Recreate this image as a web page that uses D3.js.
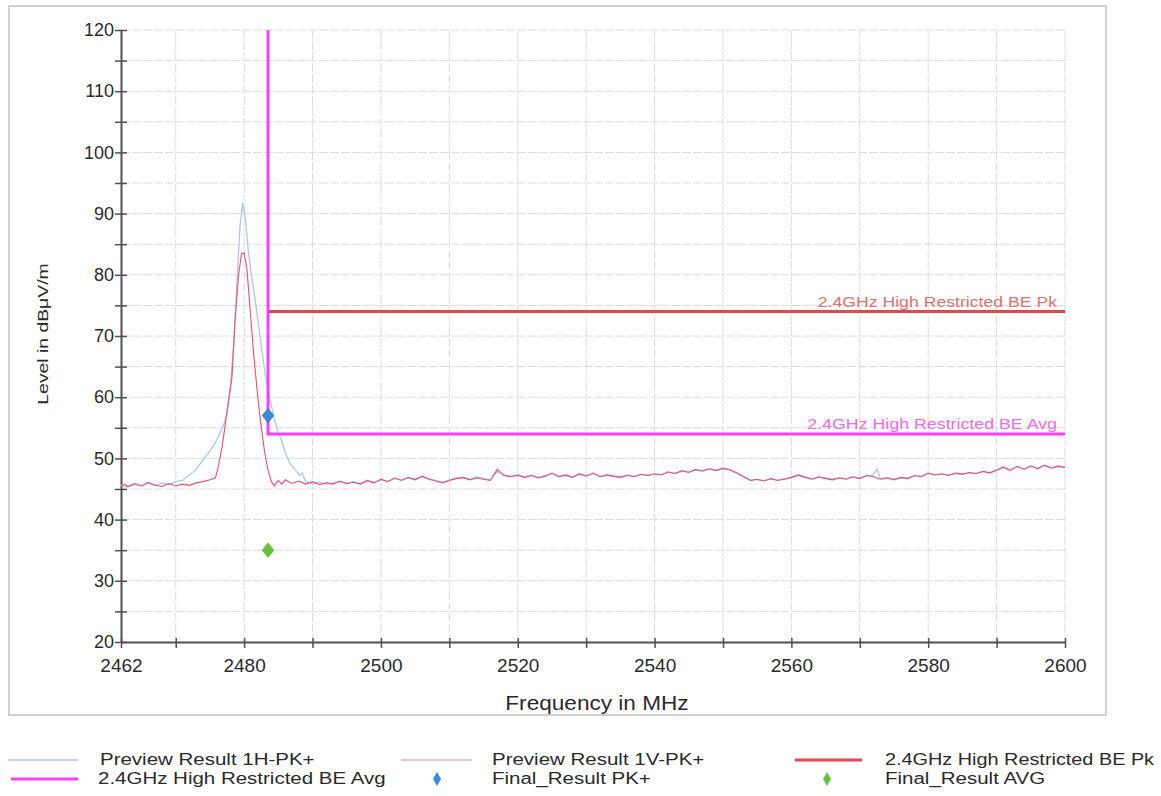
<!DOCTYPE html>
<html><head><meta charset="utf-8">
<script src="https://cdn.jsdelivr.net/npm/d3@7"></script>
<style>
html,body{margin:0;padding:0;background:#fff;}
svg{display:block;font-family:"Liberation Sans",Arial,sans-serif;}
</style></head><body>
<svg id="chart" width="1161" height="796"></svg>
<script>
// ---- data ----
const xDomain = [2462, 2600];
const yDomain = [20, 120];
const xLabelTicks = [2462, 2480, 2500, 2520, 2540, 2560, 2580, 2600];
const xMinorTicks = [2470, 2490, 2510, 2530, 2550, 2570, 2590];
const xGrid = [2470, 2480, 2490, 2500, 2510, 2520, 2530, 2540, 2550, 2560, 2570, 2580, 2590, 2600];
const yLabelTicks = [20, 30, 40, 50, 60, 70, 80, 90, 100, 110, 120];
const yMinorTicks = [25, 35, 45, 55, 65, 75, 85, 95, 105, 115];
const yGrid = [25, 30, 35, 40, 45, 50, 55, 60, 65, 70, 75, 80, 85, 90, 95, 100, 105, 110, 115, 120];

// Preview Result 1H-PK+
const h1Freq = [2462,2463,2464,2465,2466,2467,2468,2469,2470,2471,2472,2473,2474,2475,2476,2477,2477.5,2478,2478.5,2479,2479.4,2479.8,2480.2,2480.6,2481,2481.6,2482.2,2482.6,2483.2,2483.8,2484.5,2485,2485.5,2486,2486.7,2487.3,2488.1,2488.5,2489,
2490,2491,2492,2493,2494,2495,2496,2497,2498,2499,2500,2501,2502,2503,2504,2505,2506,2507,2508,2509,2510,2511,2512,2513,2514,2515,2516,2517,2518,2519,2520,2521,2522,2523,2524,2525,2526,2527,2528,2529,2530,2531,2532,2533,2534,2535,2536,2537,2538,2539,2540,2541,2542,2543,2544,2545,2546,2547,2548,2549,2550,2551,2552,2553,2554,2555,2556,2557,2558,2559,2560,2561,2562,2563,2564,2565,2566,2567,2568,2569,2570,2571,2572,2572.5,2573,2574,2575,2576,2577,2578,2579,2580,2581,2582,2583,2584,2585,2586,2587,2588,2589,2590,2591,2592,2593,2594,2595,2596,2597,2598,2599,2600];
const h1Level = [45.6,45.3,45.7,45.5,45.9,45.6,46.0,45.7,46.2,46.4,47.3,48.2,49.8,51.2,53.0,55.5,57.4,62,69,80,88,91.7,89,84,80.5,76,71,67.5,63,59.5,56,54.2,52.8,51,49.2,48.4,47.2,47.6,46.2,
45.9,46.1,45.8,46.0,46.2,45.9,46.2,45.9,46.3,46.1,46.5,46.3,46.7,46.5,46.8,46.6,47.0,46.7,46.4,46.1,46.5,46.8,46.8,46.6,47.0,46.7,46.5,47.9,47.3,47.1,47.2,47.0,47.3,46.9,47.2,47.5,47.1,47.2,47.0,47.4,47.2,47.5,47.1,47.2,47.0,47.0,47.3,47.1,47.3,47.3,47.4,47.4,47.7,47.6,47.9,47.8,48.1,48.0,48.2,48.1,48.3,48.2,47.7,47.1,46.5,46.5,46.4,46.6,46.5,46.7,46.8,47.2,47.0,46.7,46.9,46.8,46.6,46.9,46.7,46.9,46.8,47.1,47.3,48.3,46.7,46.9,46.6,46.8,46.8,47.1,47.1,47.5,47.4,47.4,47.3,47.5,47.5,47.6,47.6,47.8,47.7,48.0,48.5,48.2,48.6,48.3,48.7,48.4,48.8,48.5,48.8,48.6];

// Preview Result 1V-PK+
const v1Freq = [2462,2462.5,2463,2464,2465,2466,2467,2468,2469,2470,2471,2472,2473,2474,2475,2475.8,2476.2,2476.8,2477.3,2477.8,2478.2,2478.7,2479.2,2479.6,2480,2480.4,2480.9,2481.4,2482,2482.4,2483,2483.5,2484,2484.4,2485,2485.5,2486,
2487,2488,2489,2490,2491,2492,2493,2494,2495,2496,2497,2498,2499,2500,2501,2502,2503,2504,2505,2506,2507,2508,2509,2510,2511,2512,2513,2514,2515,2516,2517,2518,2519,2520,2521,2522,2523,2524,2525,2526,2527,2528,2529,2530,2531,2532,2533,2534,2535,2536,2537,2538,2539,2540,2541,2542,2543,2544,2545,2546,2547,2548,2549,2550,2551,2552,2553,2554,2555,2556,2557,2558,2559,2560,2561,2562,2563,2564,2565,2566,2567,2568,2569,2570,2571,2572,2573,2574,2575,2576,2577,2578,2579,2580,2581,2582,2583,2584,2585,2586,2587,2588,2589,2590,2591,2592,2593,2594,2595,2596,2597,2598,2599,2600];
const v1Level = [45.3,45.8,45.4,45.9,45.5,46.1,45.6,45.4,45.9,45.5,45.8,45.6,46.0,46.2,46.5,46.8,48.5,52,56,60,63,73,80,83.4,83.6,81,74,67,60,56,51,48,46.2,45.5,46.4,45.8,46.5,
45.9,46.3,45.8,46.2,45.7,46.0,45.8,46.3,45.9,46.1,45.8,46.4,46.0,46.6,46.2,46.8,46.4,46.9,46.5,47.1,46.6,46.3,46.0,46.4,46.7,46.9,46.5,46.8,46.6,46.4,48.2,47.2,47.0,47.3,46.9,47.2,46.8,47.1,47.6,47.0,47.3,46.9,47.5,47.1,47.6,47.0,47.3,47.1,46.9,47.2,47.0,47.4,47.2,47.5,47.3,47.8,47.5,48.0,47.7,48.2,47.9,48.3,48.0,48.4,48.1,47.6,47.0,46.4,46.6,46.3,46.7,46.4,46.6,46.9,47.3,46.9,46.6,47.0,46.7,46.5,46.8,46.6,47.0,46.7,47.2,47.0,46.6,46.8,46.5,46.9,46.7,47.2,47.0,47.6,47.3,47.5,47.2,47.6,47.4,47.7,47.5,47.9,47.6,48.1,48.6,48.0,48.7,48.2,48.8,48.3,48.9,48.4,48.7,48.5];

// limit lines
const avgLimitFreq = [2483.5, 2483.5, 2600];
const avgLimitLevel = [120, 54, 54];
const pkLimitFreq = [2483.5, 2600];
const pkLimitLevel = [74, 74];
const limitLabels = ["2.4GHz High Restricted BE Pk", "2.4GHz High Restricted BE Avg"];

// final results
const finalPkFreq = [2483.5];
const finalPkLevel = [57];
const finalAvgFreq = [2483.5];
const finalAvgLevel = [35];

const legendNames = ["Preview Result 1H-PK+", "Preview Result 1V-PK+", "2.4GHz High Restricted BE Pk",
  "2.4GHz High Restricted BE Avg", "Final_Result PK+", "Final_Result AVG"];

// ---- drawing ----
const svg = d3.select("#chart");
const C = {h1:"#a9c9ec", v1:"#ec4f72", pk:"#e8434e", avg:"#fb3efb", fpk:"#3a8ad6", favg:"#66c43a",
  h1leg:"#c5d3e0", v1leg:"#e9c4cc"};

function stretch(sel, f){
  sel.each(function(){
    const l = this.getComputedTextLength();
    d3.select(this).attr("textLength", l*f).attr("lengthAdjust","spacingAndGlyphs");
  });
}

// frame
svg.append("rect").attr("x",9).attr("y",6).attr("width",1097).attr("height",709)
  .attr("fill","#fff").attr("stroke","#d0d0d0").attr("stroke-width",2);

const x = d3.scaleLinear().domain(xDomain).range([121, 1065]);
const y = d3.scaleLinear().domain(yDomain).range([642, 30]);

const grid = svg.append("g");
grid.selectAll(".gx").data(xGrid).join("line")
  .attr("x1",d=>x(d)).attr("x2",d=>x(d)).attr("y1",y(120)).attr("y2",y(20))
  .attr("stroke","#dcdcdc").attr("stroke-width",1).attr("stroke-dasharray","9,2");
grid.selectAll(".gy").data(yGrid).join("line")
  .attr("x1",x(2462)).attr("x2",x(2600)).attr("y1",d=>y(d)).attr("y2",d=>y(d))
  .attr("stroke","#dcdcdc").attr("stroke-width",1).attr("stroke-dasharray","9,2");

// axes
const axisColor = "#505050";
const yAxis = svg.append("g").attr("transform",`translate(${x(2462)},0)`)
  .call(d3.axisLeft(y).tickValues(yLabelTicks).tickSizeInner(6).tickSizeOuter(0).tickPadding(1));
const yMinor = svg.append("g").attr("transform",`translate(${x(2462)},0)`)
  .call(d3.axisLeft(y).tickValues(yMinorTicks).tickSize(6).tickFormat(""));
const xAxis = svg.append("g").attr("transform",`translate(0,${y(20)})`)
  .call(d3.axisBottom(x).tickValues(xLabelTicks).tickSizeInner(6).tickSizeOuter(0).tickFormat(d3.format("d")).tickPadding(11));
const xMinor = svg.append("g").attr("transform",`translate(0,${y(20)})`)
  .call(d3.axisBottom(x).tickValues(xMinorTicks).tickSize(6).tickFormat(""));
[yAxis,yMinor,xAxis,xMinor].forEach(g=>{
  g.select(".domain").attr("stroke",axisColor).attr("stroke-width",2);
  g.selectAll(".tick line").attr("stroke",axisColor).attr("stroke-width",1.5);
  g.selectAll("text").attr("fill","#2a2a2a").style("font-family","Liberation Sans, Arial, sans-serif");
});
yAxis.selectAll("text").style("font-size","18px");
xAxis.selectAll("text").style("font-size","19px");
// ticks crossing the axis
[yAxis,yMinor].forEach(g=>g.selectAll(".tick line").attr("x2",6).attr("x1",-6));
[xAxis,xMinor].forEach(g=>g.selectAll(".tick line").attr("y1",-4).attr("y2",6));
yMinor.select(".domain").remove(); xMinor.select(".domain").remove();

// axis titles
svg.append("text").attr("x",597).attr("y",710).attr("text-anchor","middle")
  .style("font-size","20px").attr("fill","#2a2a2a").text("Frequency in MHz").call(stretch,1.13);
svg.append("text").attr("transform","translate(48,334) rotate(-90)").attr("text-anchor","middle")
  .style("font-size","15px").attr("fill","#2a2a2a").text("Level in dBμV/m").call(stretch,1.29);

const line = d3.line().x(d=>x(d[0])).y(d=>y(d[1]));
const zip = (a,b)=>a.map((v,i)=>[v,b[i]]);

svg.append("path").datum(zip(h1Freq,h1Level)).attr("d",line)
  .attr("fill","none").attr("stroke",C.h1).attr("stroke-width",1.3);
svg.append("path").datum(zip(v1Freq,v1Level)).attr("d",line)
  .attr("fill","none").attr("stroke",C.v1).attr("stroke-width",1.1);

svg.append("path").datum(zip(pkLimitFreq,pkLimitLevel)).attr("d",line)
  .attr("fill","none").attr("stroke",C.pk).attr("stroke-width",3);
svg.append("path").datum(zip(avgLimitFreq,avgLimitLevel)).attr("d",line)
  .attr("fill","none").attr("stroke",C.avg).attr("stroke-width",3);

svg.append("text").attr("x",x(2600)-8).attr("y",y(74)-5).attr("text-anchor","end")
  .style("font-size","14px").attr("fill","#e0706c").text(limitLabels[0]).call(stretch,1.26);
svg.append("text").attr("x",x(2600)-8).attr("y",y(54)-5).attr("text-anchor","end")
  .style("font-size","14px").attr("fill","#ee6aee").text(limitLabels[1]).call(stretch,1.27);

const diamond = d3.symbol().type(d3.symbolDiamond).size(80);
svg.selectAll(".fpk").data(zip(finalPkFreq,finalPkLevel)).join("path")
  .attr("d",diamond).attr("transform",d=>`translate(${x(d[0])},${y(d[1])}) scale(1.3,0.95)`).attr("fill",C.fpk);
svg.selectAll(".favg").data(zip(finalAvgFreq,finalAvgLevel)).join("path")
  .attr("d",diamond).attr("transform",d=>`translate(${x(d[0])},${y(d[1])}) scale(1.3,0.95)`).attr("fill",C.favg);

// legend
const leg = svg.append("g").style("font-size","16px");
const legItems = [
  {name:legendNames[0], kind:"line", color:C.h1leg, w:2, lx:[8,78], tx:100, ty:765, f:1.28},
  {name:legendNames[1], kind:"line", color:C.v1leg, w:2, lx:[401,472], tx:492, ty:765, f:1.28},
  {name:legendNames[2], kind:"line", color:C.pk, w:3, lx:[795,862], tx:885, ty:765, f:1.24},
  {name:legendNames[3], kind:"line", color:C.avg, w:3, lx:[11,78], tx:98, ty:784, f:1.28},
  {name:legendNames[4], kind:"dia", color:C.fpk, cx:437, tx:492, ty:784, f:1.28},
  {name:legendNames[5], kind:"dia", color:C.favg, cx:827, tx:885, ty:784, f:1.28},
];
legItems.forEach(it=>{
  if(it.kind==="line"){
    leg.append("line").attr("x1",it.lx[0]).attr("x2",it.lx[1]).attr("y1",it.ty-5).attr("y2",it.ty-5)
      .attr("stroke",it.color).attr("stroke-width",it.w);
  } else {
    leg.append("path").attr("d",d3.symbol().type(d3.symbolDiamond).size(55))
      .attr("transform",`translate(${it.cx},${it.ty-5})`).attr("fill",it.color);
  }
  leg.append("text").attr("x",it.tx).attr("y",it.ty).attr("fill","#2a2a2a").text(it.name).call(stretch,it.f);
});
</script>
</body></html>
